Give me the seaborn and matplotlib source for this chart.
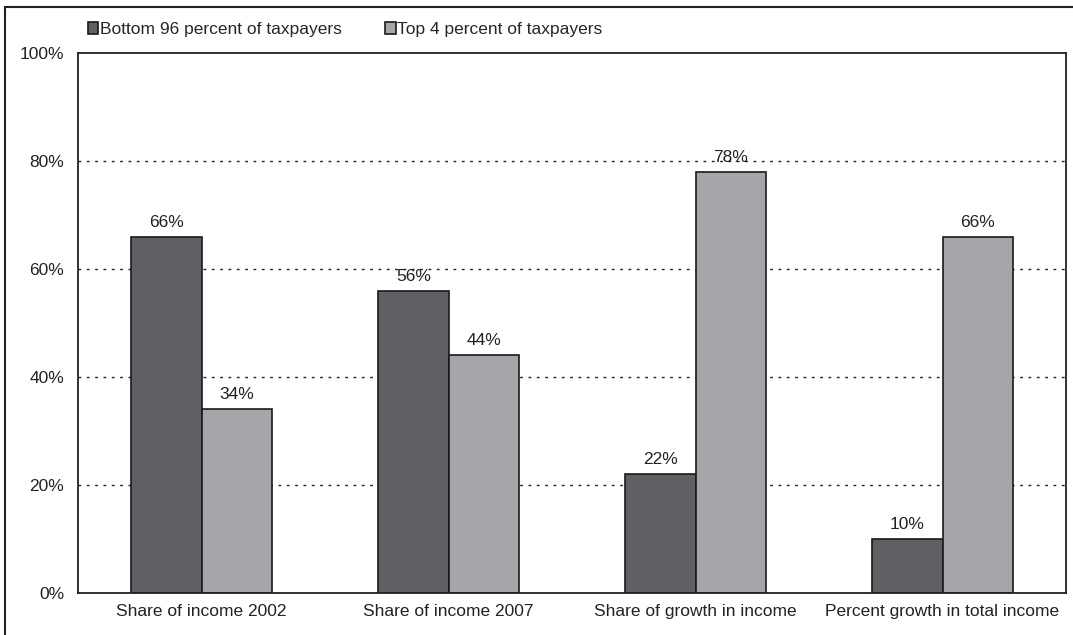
import matplotlib
matplotlib.use("Agg")
import matplotlib.pyplot as plt
import seaborn as sns
import pandas as pd
from matplotlib.patches import Rectangle

categories = ["Share of income 2002", "Share of income 2007",
              "Share of growth in income", "Percent growth in total income"]
series_names = ["Bottom 96 percent of taxpayers", "Top 4 percent of taxpayers"]
bottom96 = [66, 56, 22, 10]
top4 = [34, 44, 78, 66]
colors = ["#5f6064", "#a5a6aa"]
yticks = [0, 20, 40, 60, 80, 100]

df = pd.DataFrame({
    "category": categories * 2,
    "series": [series_names[0]] * 4 + [series_names[1]] * 4,
    "value": bottom96 + top4,
})

sns.set_theme(style="white")
plt.rcParams["font.family"] = ["Liberation Sans", "DejaVu Sans"]

fig = plt.figure(figsize=(10.73, 6.35), dpi=100)
ax = fig.add_axes([78/1073, 42/635, 988/1073, 540/635])

sns.barplot(data=df, x="category", y="value", hue="series", order=categories,
            hue_order=series_names, palette=colors, width=0.57,
            edgecolor="#1a1a1a", linewidth=1.2, ax=ax, saturation=1, zorder=2)

fs = 12.5
ax.set_ylim(0, 100)
ax.set_xlim(-0.5, 3.5)
ax.set_yticks(yticks)
ax.set_yticklabels([f"{t}%" for t in yticks], fontsize=fs, color="#222222")
ax.tick_params(axis="x", labelsize=fs, colors="#222222", length=0, pad=8)
ax.tick_params(axis="y", length=0, pad=10)
ax.set_xlabel("")
ax.set_ylabel("")
for t in yticks[1:-1]:
    ax.axhline(t, color="#222222", linestyle=(0, (2, 4)), linewidth=1, zorder=0)
for s in ax.spines.values():
    s.set_visible(True)
    s.set_color("#222222")
    s.set_linewidth(1.3)

for cont in ax.containers:
    ax.bar_label(cont, labels=[f"{v:.0f}%" for v in cont.datavalues],
                 padding=5, fontsize=fs, color="#222222")

ax.legend(loc="lower left", bbox_to_anchor=(-0.006, 1.0), ncol=2, frameon=False,
          fontsize=fs, handlelength=0.6, handleheight=0.7, handletextpad=0.1,
          columnspacing=2.5, borderaxespad=0.7, borderpad=0.2)

fig.patches.append(Rectangle((5/1073, -10/635), 1080/1073, 638/635,
                             transform=fig.transFigure, fill=False,
                             edgecolor="#222222", linewidth=1.5))

fig.savefig("out.png", dpi=100)
